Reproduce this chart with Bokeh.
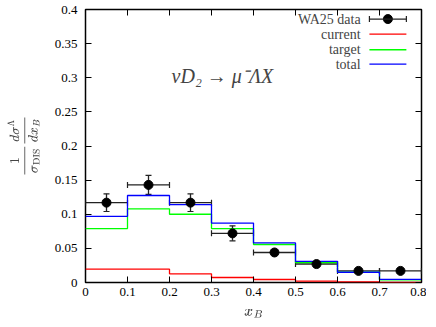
from bokeh.plotting import figure
from bokeh.models import (ColumnDataSource, Whisker, TeeHead, LinearAxis, Range1d,
                          FixedTicker, CustomJSTickFormatter, Label, Arrow)
from bokeh.embed import file_html
from bokeh.resources import INLINE

# ---- data ----
bin_edges = [0.0, 0.1, 0.2, 0.3, 0.4, 0.5, 0.6, 0.7, 0.8]
data_x = [0.05, 0.15, 0.25, 0.35, 0.45, 0.55, 0.65, 0.75]
data_y = [0.117, 0.143, 0.117, 0.072, 0.044, 0.027, 0.017, 0.017]
data_err = [0.013, 0.014, 0.013, 0.011, 0.003, 0.003, 0.002, 0.002]
current = [0.0195, 0.0195, 0.0127, 0.0073, 0.0044, 0.0020, 0.0008, 0.0003]
target = [0.079, 0.108, 0.100, 0.079, 0.0557, 0.029, 0.015, 0.004]
total = [0.097, 0.1275, 0.114, 0.087, 0.058, 0.031, 0.015, 0.0045]
x_ticks = [0, 0.1, 0.2, 0.3, 0.4, 0.5, 0.6, 0.7, 0.8]
y_ticks = [0, 0.05, 0.1, 0.15, 0.2, 0.25, 0.3, 0.35, 0.4]

FONT = "Liberation Serif"

p = figure(width=426, height=327, output_backend="svg", toolbar_location=None,
           x_range=Range1d(0, 0.8), y_range=Range1d(0, 0.4),
           min_border_left=85, min_border_right=5, min_border_top=9, min_border_bottom=30)
p.grid.visible = False
p.outline_line_color = "black"
p.outline_line_width = 1.5

fmt = CustomJSTickFormatter(code="return String(Math.round(tick*100)/100)")
for ax in p.xaxis:
    ax.ticker = FixedTicker(ticks=x_ticks)
for ax in p.yaxis:
    ax.ticker = FixedTicker(ticks=y_ticks)
for ax in p.axis:
    ax.formatter = fmt
    ax.major_tick_in = 6
    ax.major_tick_out = 0
    ax.minor_tick_line_color = None
    ax.axis_line_color = None
    ax.major_label_text_font = FONT
    ax.major_label_text_font_size = "13px"
    ax.major_label_text_color = "black"
    ax.axis_label_text_font = FONT
    ax.axis_label_text_font_style = "normal"

p.xaxis.major_label_standoff = 5
p.yaxis.major_label_standoff = 8
p.xaxis.axis_label = r"$$x_B$$"
p.xaxis.axis_label_text_font_size = "15px"
p.xaxis.axis_label_standoff = 10
p.yaxis.axis_label = r"$$\frac{1}{\sigma_{\rm DIS}}\frac{d\sigma^\Lambda}{dx_B}$$"
p.yaxis.axis_label_text_font_size = "13px"
p.yaxis.axis_label_standoff = 12

blank = CustomJSTickFormatter(code="return ''")
for loc, ticks in (("right", y_ticks), ("above", x_ticks)):
    ax = LinearAxis(ticker=FixedTicker(ticks=ticks), formatter=blank,
                    major_label_standoff=0,
                    major_tick_in=6, major_tick_out=0, minor_tick_line_color=None,
                    axis_line_color=None)
    p.add_layout(ax, loc)

# histograms (steps)
def stepy(v):
    return list(v) + [v[-1]]

p.step(bin_edges, stepy(current), mode="after", line_color="#ff0000", line_width=1.3)
p.step(bin_edges, stepy(target), mode="after", line_color="#00ff00", line_width=1.3)
p.step(bin_edges, stepy(total), mode="after", line_color="#0000ff", line_width=1.3)

# data
src = ColumnDataSource(dict(
    x=data_x, y=data_y,
    lo=[y - e for y, e in zip(data_y, data_err)],
    hi=[y + e for y, e in zip(data_y, data_err)],
    xl=bin_edges[:-1], xh=bin_edges[1:],
))
DK = "#222222"
p.add_layout(Whisker(source=src, base="y", lower="xl", upper="xh", dimension="width",
                     line_color=DK, line_width=1.4,
                     lower_head=TeeHead(size=6, line_color=DK, line_width=1.2),
                     upper_head=TeeHead(size=6, line_color=DK, line_width=1.2)))
p.add_layout(Whisker(source=src, base="x", lower="lo", upper="hi", dimension="height",
                     line_color=DK, line_width=1.3,
                     lower_head=TeeHead(size=6, line_color=DK, line_width=1.2),
                     upper_head=TeeHead(size=6, line_color=DK, line_width=1.2)))
p.scatter("x", "y", source=src, size=9, color="black")

# legend (gnuplot style: text right-aligned, sample to the right)
leg_text_x = 0.655
leg_x0, leg_x1 = 0.676, 0.764
leg_items = [("WA25 data", DK, 0.386), ("current", "#ff0000", 0.364),
             ("target", "#00ff00", 0.341), ("total", "#0000ff", 0.320)]
for name, col, yy in leg_items:
    p.add_layout(Label(x=leg_text_x, y=yy, text=name, text_align="right",
                       text_baseline="middle", text_font=FONT, text_font_size="14px"))
    if name == "WA25 data":
        p.add_layout(Arrow(x_start=leg_x0, y_start=yy, x_end=leg_x1, y_end=yy,
                           line_color=col, line_width=1.3,
                           start=TeeHead(size=6, line_color=col, line_width=1.2),
                           end=TeeHead(size=6, line_color=col, line_width=1.2)))
        p.scatter([(leg_x0 + leg_x1) / 2], [yy], size=9, color="black")
    else:
        p.add_layout(Arrow(x_start=leg_x0, y_start=yy, x_end=leg_x1, y_end=yy,
                           line_color=col, line_width=1.3, end=None))

p.add_layout(Label(x=0.205, y=0.303, text="νD₂ → μ⁻ΛX", text_baseline="middle",
                   text_font=FONT, text_font_style="italic", text_font_size="20px"))

open("out.html", "w").write(file_html(p, INLINE))
